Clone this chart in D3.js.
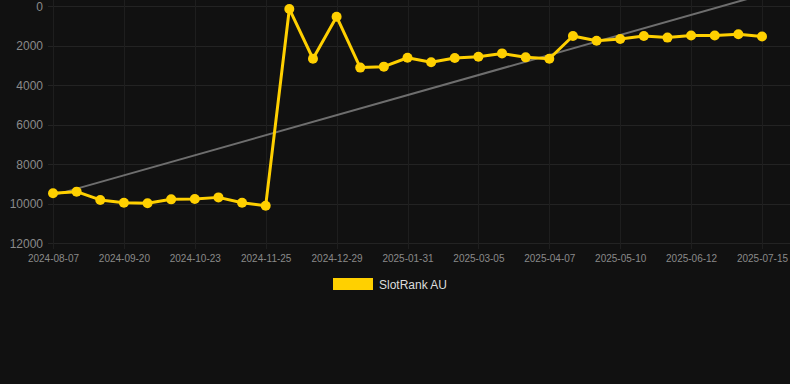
<!DOCTYPE html>
<html>
<head>
<meta charset="utf-8">
<script src="https://cdn.jsdelivr.net/npm/d3@7"></script>
<style>
  html, body { margin: 0; padding: 0; background: #111111; }
  svg { display: block; }
  .tick text { fill: #8a8a8a; font-family: "Liberation Sans", Arial, sans-serif; }
</style>
</head>
<body>
<div class="graph"></div>
<script>
var dates = ["2024-08-07","2024-08-21","2024-09-04","2024-09-20","2024-10-01","2024-10-12",
  "2024-10-23","2024-11-03","2024-11-14","2024-11-25","2024-12-06","2024-12-18",
  "2024-12-29","2025-01-09","2025-01-20","2025-01-31","2025-02-11","2025-02-22",
  "2025-03-05","2025-03-16","2025-03-27","2025-04-07","2025-04-18","2025-04-29",
  "2025-05-10","2025-05-21","2025-06-01","2025-06-12","2025-06-23","2025-07-04","2025-07-15"];
var rank = [9480, 9400, 9820, 9960, 9990, 9790, 9770, 9690, 9960, 10110,
  150, 2670, 540, 3120, 3070, 2620, 2850, 2630, 2570, 2400, 2600,
  2670, 1520, 1760, 1670, 1520, 1600, 1490, 1490, 1430, 1540];
var yTicks = [0, 2000, 4000, 6000, 8000, 10000, 12000];
var seriesName = "SlotRank AU";

(function() {
  var W = 790, H = 384;
  var pLeft = 53, pRight = 762, pTop = 6, pBottom = 243;

  var svg = d3.select(".graph").append("svg")
    .attr("width", W).attr("height", H);

  var x = d3.scalePoint().domain(dates).range([pLeft, pRight]);
  var y = d3.scaleLinear().domain([0, 12000]).range([pTop, pBottom]);

  // grid
  svg.append("g").selectAll("line").data(yTicks).join("line")
    .attr("x1", pLeft - 5).attr("x2", W)
    .attr("y1", function(d) { return Math.round(y(d)) + 0.5; })
    .attr("y2", function(d) { return Math.round(y(d)) + 0.5; })
    .attr("stroke", "#232323").attr("stroke-width", 1);

  var shown = dates.filter(function(d, i) { return i % 3 === 0; });
  svg.append("g").selectAll("line").data(shown).join("line")
    .attr("x1", function(d) { return Math.round(x(d)) + 0.5; })
    .attr("x2", function(d) { return Math.round(x(d)) + 0.5; })
    .attr("y1", 0).attr("y2", pBottom + 6)
    .attr("stroke", "#1e1e1e").attr("stroke-width", 1);

  // axes
  var yAxis = svg.append("g")
    .attr("transform", "translate(" + (pLeft - 10) + ",0)")
    .call(d3.axisLeft(y).tickValues(yTicks).tickFormat(d3.format("d")).tickSize(0).tickPadding(0));
  yAxis.select(".domain").remove();
  yAxis.selectAll("text").attr("font-size", 12).attr("dy", "0.35em");

  var xAxis = svg.append("g")
    .attr("transform", "translate(0," + (pBottom + 10) + ")")
    .call(d3.axisBottom(x).tickValues(shown).tickSize(0).tickPadding(0));
  xAxis.select(".domain").remove();
  xAxis.selectAll("text").attr("font-size", 10).attr("dy", "0.9em");

  // trend line, least squares over the series
  var n = rank.length, mx = d3.mean(d3.range(n)), my = d3.mean(rank);
  var sxy = d3.sum(rank, function(v, i) { return (i - mx) * (v - my); });
  var sxx = d3.sum(d3.range(n), function(i) { return (i - mx) * (i - mx); });
  var slope = sxy / sxx, icpt = my - slope * mx;
  svg.append("line")
    .attr("x1", x(dates[0])).attr("y1", y(icpt))
    .attr("x2", x(dates[n - 1])).attr("y2", y(icpt + slope * (n - 1)))
    .attr("stroke", "#6e6e6e").attr("stroke-width", 2);

  // series
  var line = d3.line()
    .x(function(d, i) { return x(dates[i]); })
    .y(function(d) { return y(d); });

  svg.append("path").datum(rank)
    .attr("d", line)
    .attr("fill", "none")
    .attr("stroke", "#FFD000")
    .attr("stroke-width", 3)
    .attr("stroke-linejoin", "round");

  svg.append("g").selectAll("circle").data(rank).join("circle")
    .attr("cx", function(d, i) { return x(dates[i]); })
    .attr("cy", function(d) { return y(d); })
    .attr("r", 5)
    .attr("fill", "#FFD000");

  // legend
  var lg = svg.append("g").attr("transform", "translate(333,278)");
  lg.append("rect").attr("width", 40).attr("height", 12).attr("fill", "#FFD000");
  lg.append("text").attr("x", 46).attr("y", 10.5)
    .attr("fill", "#dddddd")
    .attr("font-family", "'Liberation Sans', Arial, sans-serif")
    .attr("font-size", 12)
    .text(seriesName);
})();
</script>
</body>
</html>
